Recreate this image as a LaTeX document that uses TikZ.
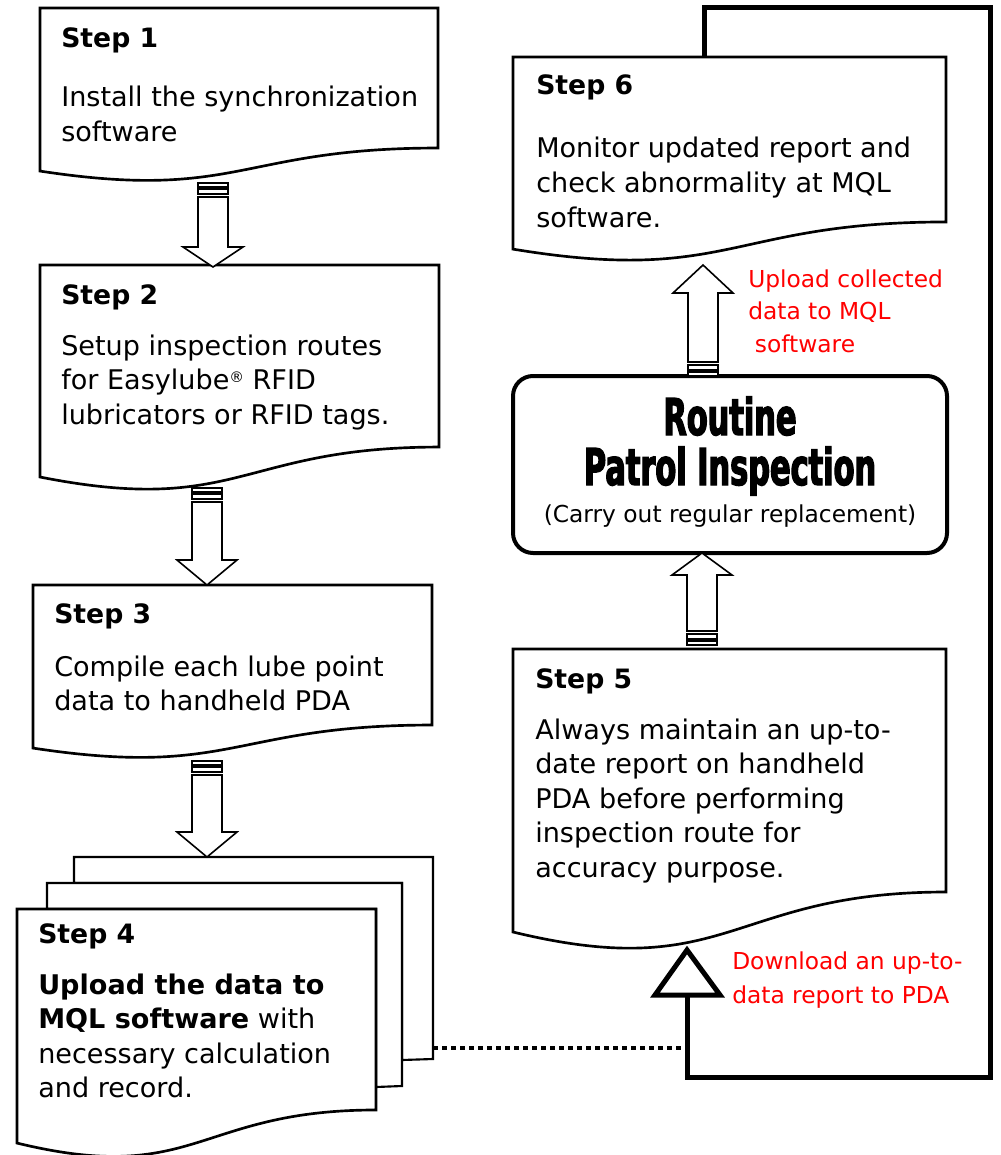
\documentclass[tikz,border=0pt]{standalone}
\usepackage{fontspec}
\setmainfont{DejaVu Sans}
\newfontfamily\titlefont{DejaVu Sans}[FakeStretch=0.6, FakeBold=2.5]
\newcommand\bodyfont{\fontsize{20.3pt}{25.9pt}\selectfont}
\newcommand\headfont{\fontsize{20pt}{24pt}\selectfont\bfseries}
\newcommand\smallfont{\fontsize{17.5pt}{24.4pt}\selectfont}
\newcommand\redfontb{\fontsize{17.5pt}{25.5pt}\selectfont}
% document shape: #1 L, #2 T, #3 R, #4 h
\newcommand\docshape[4]{%
  \draw[docline] (#1,#2) -- (#3,#2) -- (#3,{#2+0.802*#4})
    .. controls ({(#1+#3)/2},{#2+0.802*#4}) and ({(#1+#3)/2},{#2+1.1075*#4}) .. (#1,{#2+0.934*#4}) -- cycle;}
% striped block arrow pointing down: #1 cx, #2 stripe start, #3 head base, #4 tip
\newcommand\blockdown[4]{%
  \draw[blockarrow] ({#1-15},#2) rectangle ({#1+15},{#2+4});
  \draw[blockarrow] ({#1-15},{#2+6}) rectangle ({#1+15},{#2+11});
  \draw[blockarrow] ({#1-15},{#2+14}) -- ({#1-15},#3) -- ({#1-30},#3) -- (#1,#4)
    -- ({#1+30},#3) -- ({#1+15},#3) -- ({#1+15},{#2+14}) -- cycle;}
% striped block arrow pointing up: #1 cx, #2 stripe bottom, #3 head base, #4 tip
\newcommand\blockup[4]{%
  \draw[blockarrow] ({#1-15},#2) rectangle ({#1+15},{#2-4});
  \draw[blockarrow] ({#1-15},{#2-6}) rectangle ({#1+15},{#2-11});
  \draw[blockarrow] ({#1-15},{#2-14}) -- ({#1-15},#3) -- ({#1-30},#3) -- (#1,#4)
    -- ({#1+30},#3) -- ({#1+15},#3) -- ({#1+15},{#2-14}) -- cycle;}
\tikzset{
  docline/.style={draw=black, line width=2pt, fill=white, line join=miter},
  pageline/.style={draw=black, line width=1.6pt, fill=white, line join=miter},
  blockarrow/.style={draw=black, line width=1.2pt, fill=white, line join=miter},
  head/.style={anchor=base west, inner sep=0pt, font=\headfont},
  body/.style={anchor=base west, inner sep=0pt, font=\bodyfont},
  redlbl/.style={anchor=base west, inner sep=0pt, text=red},
  thickline/.style={draw=black, line width=3.75pt, line join=miter},
  dotline/.style={draw=black, line width=3pt, dash pattern=on 3.75pt off 3pt}
}
\begin{document}
\begin{tikzpicture}[x=0.75pt, y=-0.75pt]
\useasboundingbox (0,0) rectangle (1000,1155);

% coordinates for connectors
\coordinate (s6in) at (704,57);
\coordinate (c1) at (704,8);
\coordinate (c2) at (990,8);
\coordinate (c3) at (990,1077);
\coordinate (c4) at (687,1077);
\coordinate (trbase) at (687,995);
\coordinate (trtip) at (687,950);
\coordinate (s4out) at (433,1048);
\coordinate (dotend) at (687,1048);

% thick feedback connector
\draw[thickline] (s6in) -- (c1) -- (c2) -- (c3) -- (c4) -- (trbase);
\draw[thickline, fill=white] (trtip) -- (655,995) -- (720,995) -- cycle;

% Step 1
\docshape{40}{8}{438}{174.6}
\node[head] (h1) at (61,48) {Step 1};
\node[body] (t1) at (61,107) {\parbox[t]{320pt}{\raggedright Install the synchronization\\software}};

% Step 2
\docshape{40}{265}{439}{227}
\node[head] (h2) at (61,305) {Step 2};
\node[body] (t2) at (61,355) {\parbox[t]{320pt}{\raggedright Setup inspection routes\\for Easylube{\fontsize{11pt}{11pt}\selectfont\raisebox{5pt}{®}} RFID\\lubricators or RFID tags.}};

% Step 3
\docshape{33}{585}{432}{174.6}
\node[head] (h3) at (54,623) {Step 3};
\node[body] (t3) at (54,676) {\parbox[t]{320pt}{\raggedright Compile each lube point\\data to handheld PDA}};

% Step 4 (multi document)
\draw[pageline] (74,857) -- (433,857) -- (433,1059) -- (402,1060) -- (402,883) -- (74,883) -- cycle;
\draw[pageline] (47,883) -- (402,883) -- (402,1086) -- (376,1087) -- (376,909) -- (47,909) -- cycle;
\docshape{17}{909}{376}{250.6}
\node[head] (h4) at (38,943) {Step 4};
\node[body] (t4) at (38,994) {\parbox[t]{320pt}{\raggedright \textbf{Upload the data to}\\\textbf{MQL software} with\\necessary calculation\\and record.}};

% Step 5
\docshape{513}{649}{946}{303}
\node[head] (h5) at (535,688) {Step 5};
\node[body] (t5) at (535,739) {\parbox[t]{340pt}{\raggedright Always maintain an up-to-\\date report on handheld\\PDA before performing\\inspection route for\\accuracy purpose.}};

% Step 6
\docshape{513}{57}{946}{205.7}
\node[head] (h6) at (536,95) {Step 6};
\node[body] (t6) at (536,158) {\parbox[t]{340pt}{\raggedright Monitor updated report and\\check abnormality at MQL\\software.}};

% Routine Patrol Inspection
\draw[draw=black, line width=3pt, fill=white, rounded corners=15pt] (513,376) rectangle (947,553);
\node[anchor=base, inner sep=0pt, font=\titlefont\bfseries\fontsize{38pt}{40pt}\selectfont] (rt1) at (730,435) {Routine};
\node[anchor=base, inner sep=0pt, font=\titlefont\bfseries\fontsize{38pt}{40pt}\selectfont] (rt2) at (730,485) {Patrol Inspection};
\node[anchor=base, inner sep=0pt, font=\smallfont] (rt3) at (730,522) {(Carry out regular replacement)};

% block arrows
\blockdown{213}{183}{247}{267}
\blockdown{207}{488}{560}{585}
\blockdown{207}{761}{832}{857}
\blockup{703}{376}{293}{265}
\blockup{702}{645}{575}{553}

% dotted link
\draw[dotline] (s4out) -- (dotend);

% red labels
\node[redlbl, font=\smallfont] (l1) at (748,287) {\parbox[t]{220pt}{\raggedright Upload collected\\data to MQL\\\hspace*{5pt}software}};
\node[redlbl, font=\redfontb] (l2) at (732,969) {\parbox[t]{220pt}{\raggedright Download an up-to-\\data report to PDA}};
\end{tikzpicture}
\end{document}
